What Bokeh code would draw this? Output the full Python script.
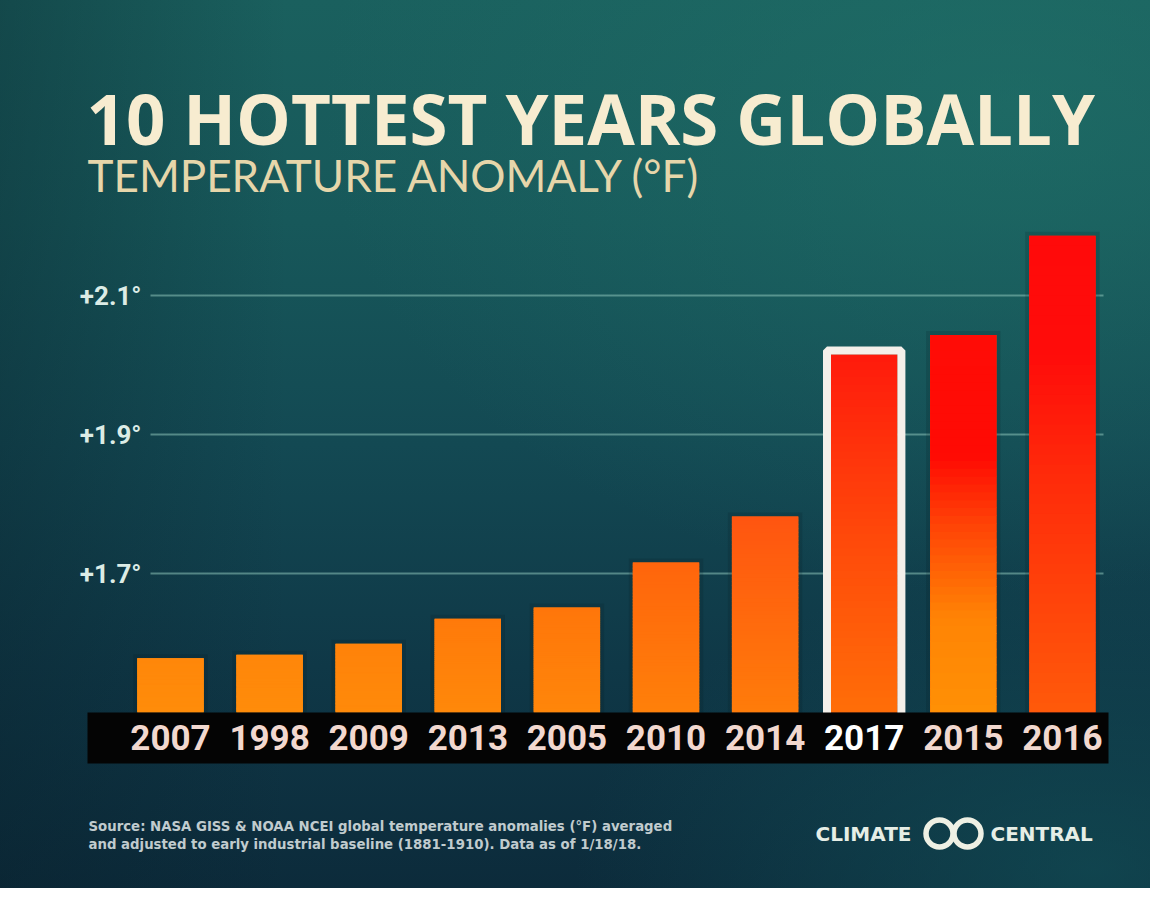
import numpy as np
from bokeh.plotting import figure
from bokeh.models import Range1d, Label, InlineStyleSheet
from bokeh.core.properties import value
from bokeh.embed import file_html
from bokeh.resources import INLINE

# ---------------- data ----------------
years = ["2007", "1998", "2009", "2013", "2005", "2010", "2014", "2017", "2015", "2016"]
anomaly_f = [1.578, 1.583, 1.599, 1.635, 1.651, 1.716, 1.782, 2.015, 2.043, 2.186]
baseline_f = 1.5
y_ticks = [1.7, 1.9, 2.1]
y_tick_labels = ["+1.7°", "+1.9°", "+2.1°"]
highlight_year = "2017"

title_text = "10 HOTTEST YEARS GLOBALLY"
subtitle_text = "TEMPERATURE ANOMALY (°F)"
source_lines = [
    "Source: NASA GISS & NOAA NCEI global temperature anomalies (°F) averaged",
    "and adjusted to early industrial baseline (1881-1910). Data as of 1/18/18.",
]

# ---------------- styles ----------------
bar_stops = [
    [(0, "#ff8c0a"), (1, "#ff870a")],
    [(0, "#ff8c0a"), (1, "#ff860a")],
    [(0, "#ff8a0a"), (1, "#ff820a")],
    [(0, "#ff880a"), (1, "#ff7a0a")],
    [(0, "#ff860a"), (1, "#ff760a")],
    [(0, "#ff800a"), (1, "#ff650c")],
    [(0, "#ff7c0a"), (1, "#ff5510")],
    [(0, "#ff6e08"), (0.5, "#ff480a"), (1, "#ff1a0c")],
    [(0, "#ff9005"), (0.25, "#ff8405"), (0.5, "#ff4206"), (0.68, "#ff0a04"), (1, "#ff0c06")],
    [(0, "#ff5a0a"), (0.5, "#ff2a0a"), (0.75, "#ff0c0a"), (1, "#ff0a0a")],
]

FONT_YEARS = "Roboto"
FONT_YTICK = "Roboto"

W, H = 1150, 888
PX_PER_CAT = 99.1
FIRST_PX = 170
PX_PER_DEG = 695.0
REF_V = 2.1
REF_PY = 295
BAR_W = 0.67

x_range = Range1d(-FIRST_PX / PX_PER_CAT, (W - FIRST_PX) / PX_PER_CAT)
y_range = Range1d(REF_V - (H - REF_PY) / PX_PER_DEG, REF_V + REF_PY / PX_PER_DEG)


def sx(px):
    return x_range.start + px / PX_PER_CAT


def sy(py):
    return REF_V - (py - REF_PY) / PX_PER_DEG


def hex2rgb(h):
    h = h.lstrip("#")
    return np.array([int(h[i:i + 2], 16) for i in (0, 2, 4)], dtype=float)


def color_at(stops, t):
    for (t0, c0), (t1, c1) in zip(stops[:-1], stops[1:]):
        if t <= t1:
            f = 0 if t1 == t0 else (t - t0) / (t1 - t0)
            c = hex2rgb(c0) * (1 - f) + hex2rgb(c1) * f
            return "#%02x%02x%02x" % tuple(int(round(v)) for v in c)
    return stops[-1][1]


css = """
:host {
  background:
    radial-gradient(ellipse 60% 55% at 88% 12%, rgba(34,118,108,0.5) 0%, rgba(34,118,108,0) 100%),
    radial-gradient(ellipse 45% 35% at 95% 98%, rgba(18,78,86,0.7) 0%, rgba(18,78,86,0) 100%),
    linear-gradient(90deg, rgba(8,30,40,0.35) 0%, rgba(8,30,40,0) 25%),
    linear-gradient(180deg, #1a605e 0%, #17585a 25%, #134953 50%, #0f3847 75%, #0c2b3b 100%);
}
"""

p = figure(width=W, height=H, x_range=x_range, y_range=y_range,
           output_backend="svg", toolbar_location=None,
           x_axis_location=None, y_axis_location=None,
           min_border=0, outline_line_color=None,
           background_fill_color=None, border_fill_color=None,
           stylesheets=[InlineStyleSheet(css=css)])
p.grid.visible = False

idx = list(range(len(years)))

# grid lines
p.segment(x0=sx(150), x1=sx(1103), y0=y_ticks, y1=y_ticks,
          line_color="#8cc2b8", line_alpha=0.55, line_width=2)

# y tick labels
p.text(x=sx(141), y=y_ticks, text=y_tick_labels, text_align="right",
       text_baseline="middle", text_font=value(FONT_YTICK), text_font_style="bold",
       text_font_size="26px", text_color="#dcece6")

# faint shadow behind bars
shadow_w = BAR_W + 8 / PX_PER_CAT
p.vbar(x=idx, bottom=baseline_f, top=[v + 4 / PX_PER_DEG for v in anomaly_f],
       width=shadow_w, fill_color="#071a20", fill_alpha=0.16, line_color=None)

# solid bars
mid_colors = [color_at(s, 0.5) for s in bar_stops]
p.vbar(x=idx, bottom=baseline_f, top=anomaly_f, width=BAR_W,
       fill_color=mid_colors, line_color=None)

# gradient overlay
N = 48
eps = 0.8 / PX_PER_DEG
L, R, B, T, C = [], [], [], [], []
for i, v in enumerate(anomaly_f):
    for k in range(N):
        b = baseline_f + (v - baseline_f) * k / N
        t = baseline_f + (v - baseline_f) * (k + 1) / N
        L.append(i - BAR_W / 2)
        R.append(i + BAR_W / 2)
        B.append(b)
        T.append(min(t + eps, v))
        C.append(color_at(bar_stops[i], (k + 0.5) / N))
p.quad(left=L, right=R, bottom=B, top=T, fill_color=C, line_color=None)

# highlight outline for the newest year
hi = years.index(highlight_year)
OUT_PX = 8
p.vbar(x=[hi], bottom=[baseline_f - 20 / PX_PER_DEG],
       top=[anomaly_f[hi] + (OUT_PX / 2) / PX_PER_DEG],
       width=BAR_W + OUT_PX / PX_PER_CAT, fill_color=None,
       line_color="#f4f0ea", line_width=OUT_PX)

# black label band
p.quad(left=[sx(87)], right=[sx(1108)], bottom=[sy(763)], top=[baseline_f],
       fill_color="#040404", line_color=None)

label_colors = ["#ffffff" if y == highlight_year else "#f2d8cf" for y in years]
p.text(x=idx, y=sy(737), text=years, text_align="center", text_baseline="middle",
       text_font=value(FONT_YEARS), text_font_style="bold", text_font_size="35px",
       text_color=label_colors)

# titles (Label y = vertical middle of the text)
p.add_layout(Label(x=sx(86), y=sy(117), text=title_text, text_font="Open Sans",
                   text_font_style="bold", text_font_size="69px",
                   text_color="#f7ecd0", text_baseline="middle"))
p.add_layout(Label(x=sx(87), y=sy(174), text=subtitle_text, text_font="Lato",
                   text_font_size="44px", text_color="#e6d6aa",
                   text_baseline="middle"))

# source note
for j, line in enumerate(source_lines):
    p.add_layout(Label(x=sx(88), y=sy(826 + 18 * j), text=line,
                       text_font="DejaVu Sans", text_font_style="bold",
                       text_font_size="13.3px", text_color="#c0cbce",
                       text_baseline="middle"))

# logo
p.add_layout(Label(x=sx(815), y=sy(833), text="CLIMATE", text_font="DejaVu Sans",
                   text_font_style="bold", text_font_size="20px",
                   text_color="#e6eee6", text_baseline="middle"))
p.add_layout(Label(x=sx(990), y=sy(833), text="CENTRAL", text_font="DejaVu Sans",
                   text_font_style="bold", text_font_size="20px",
                   text_color="#e6eee6", text_baseline="middle"))
p.scatter(x=[sx(939), sx(967)], y=[sy(833), sy(833)], marker="circle", size=27,
          fill_color=None, line_color="#eef0e4", line_width=5.5)

open("out.html", "w").write(file_html(p, INLINE))
